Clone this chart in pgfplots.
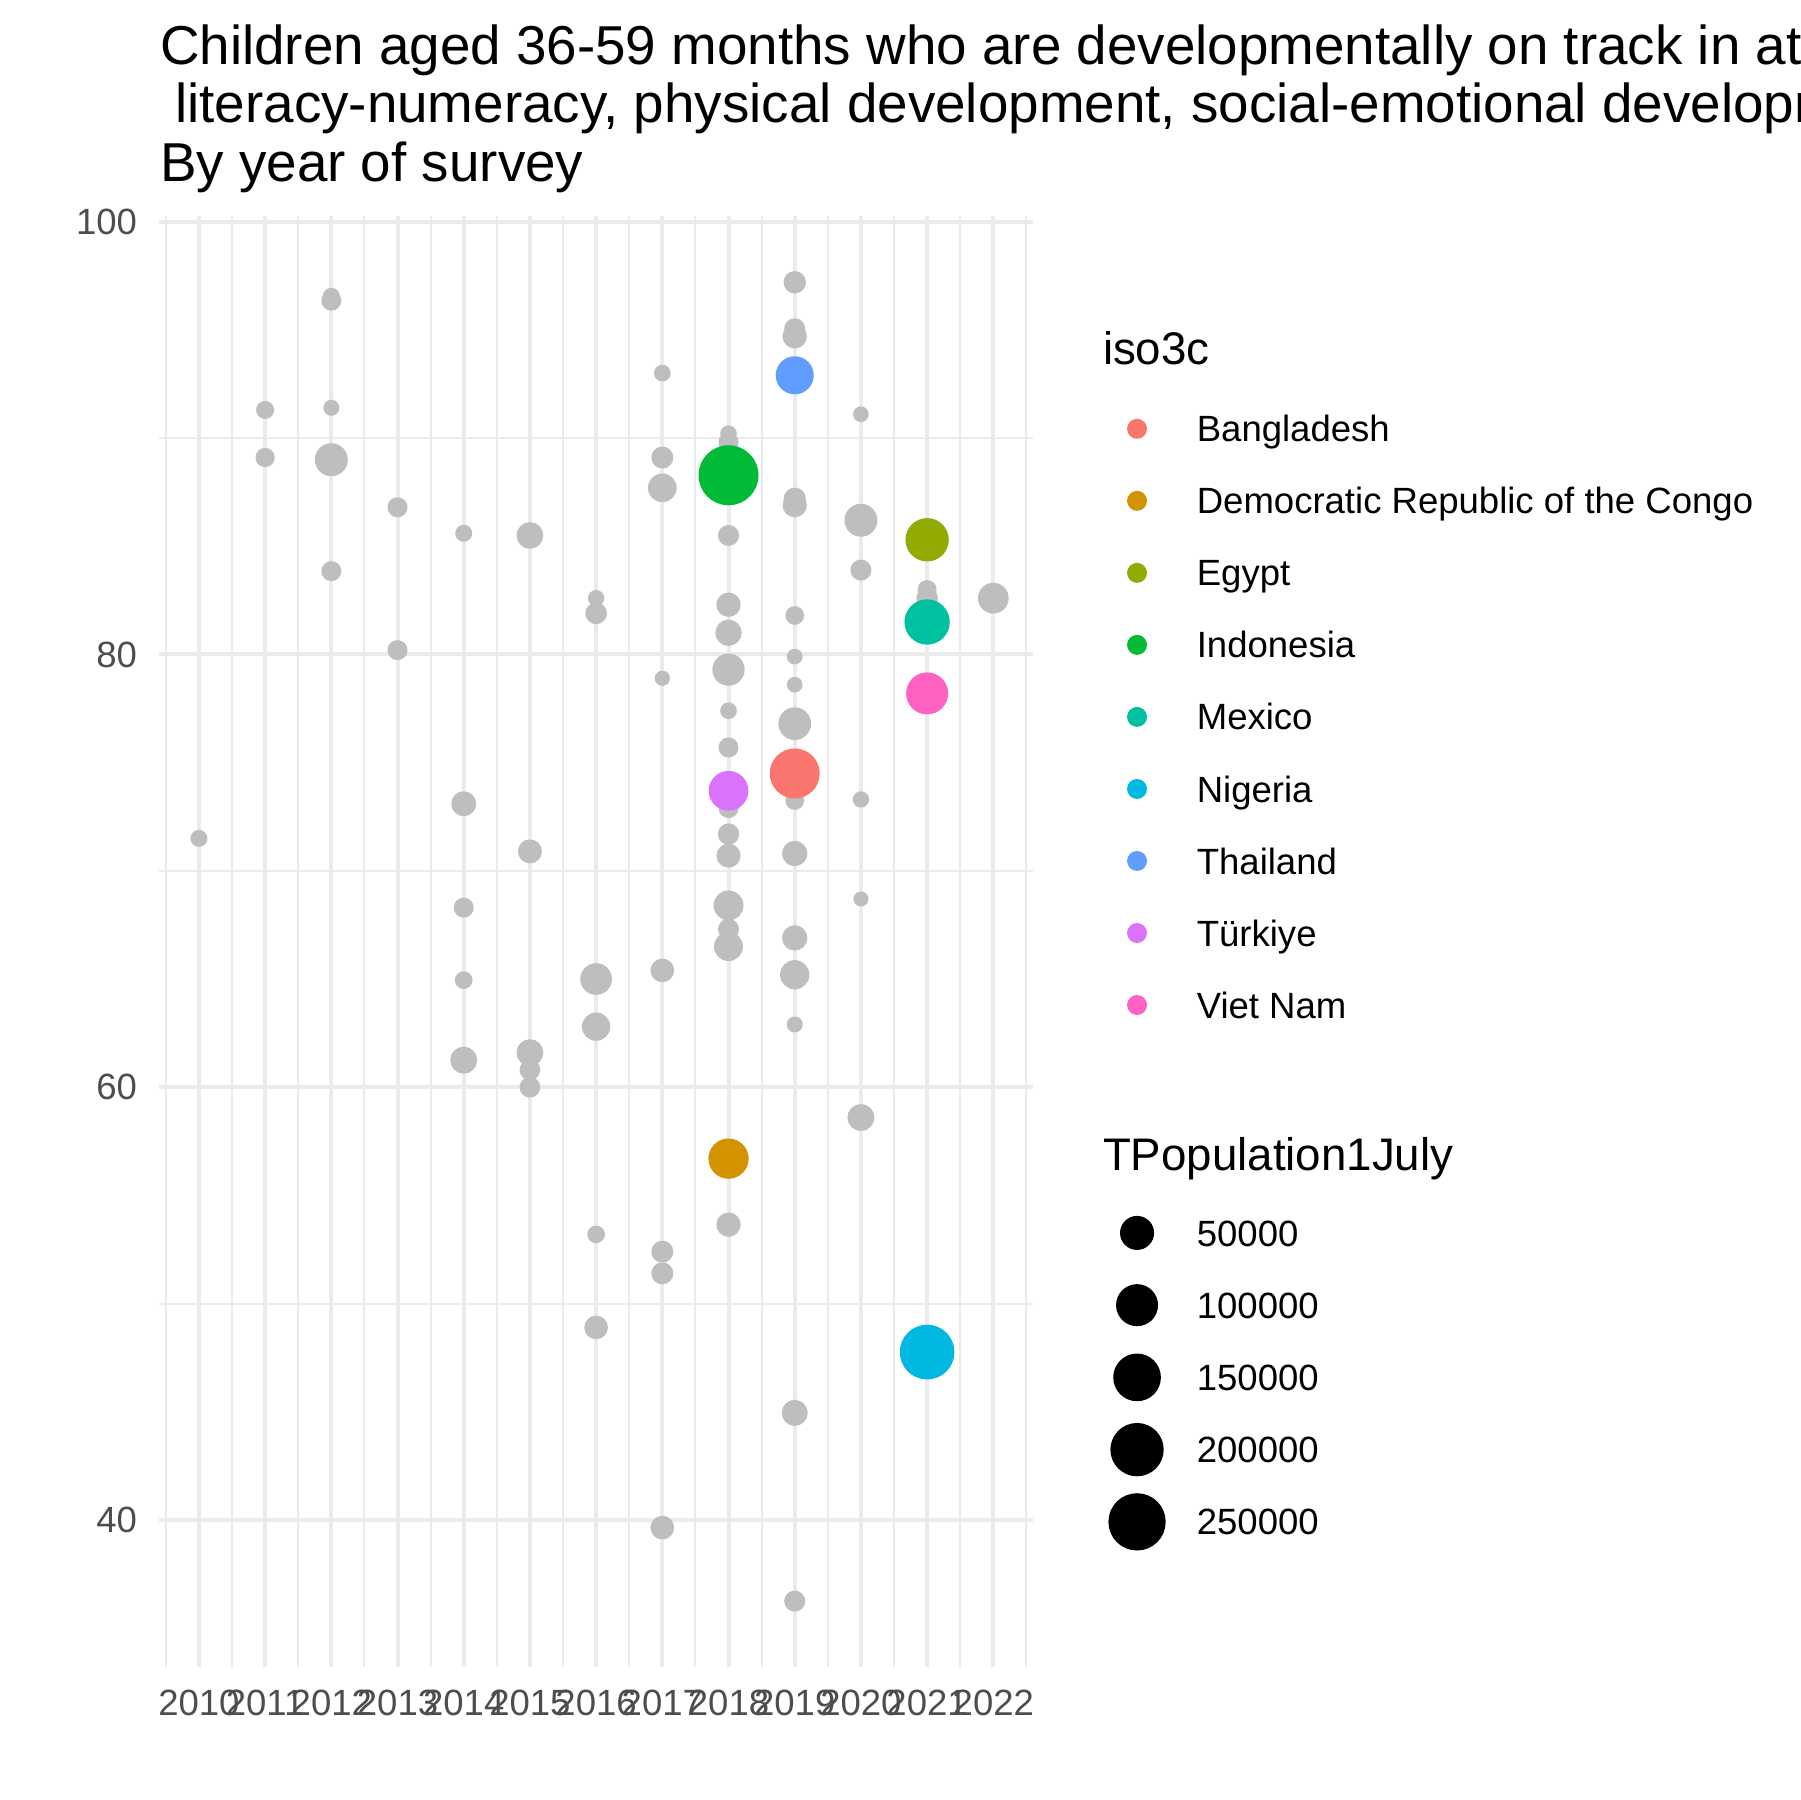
\documentclass[border=0pt]{standalone}
\usepackage{fontspec}
\setmainfont{Liberation Sans}
\usepackage{pgfplots}
\pgfplotsset{compat=1.18}
\usepackage{pgfplotstable}
\definecolor{ggray}{HTML}{BEBEBE}
\definecolor{gridc}{HTML}{EBEBEB}
\definecolor{tickc}{HTML}{4D4D4D}
\definecolor{cBGD}{HTML}{F8766D}
\definecolor{cCOD}{HTML}{D39200}
\definecolor{cEGY}{HTML}{93AA00}
\definecolor{cIDN}{HTML}{00BA38}
\definecolor{cMEX}{HTML}{00C19F}
\definecolor{cNGA}{HTML}{00B9E3}
\definecolor{cTHA}{HTML}{619CFF}
\definecolor{cTUR}{HTML}{DB72FB}
\definecolor{cVNM}{HTML}{FF61C3}

\pgfplotstableread{
year val r
2010 71.5 1.85
2011 91.3 1.97
2011 89.1 2.12
2012 96.55 1.85
2012 96.35 2.21
2012 91.4 1.73
2012 89.0 3.77
2012 83.85 2.21
2013 86.8 2.21
2013 80.2 2.21
2014 85.6 1.85
2014 73.1 2.81
2014 68.3 2.21
2014 64.95 1.93
2014 61.25 3.05
2015 85.5 3.02
2015 70.9 2.69
2015 61.6 3.02
2015 60.8 2.29
2015 60.0 2.29
2016 82.6 1.76
2016 81.9 2.41
2016 65.0 3.62
2016 62.8 3.21
2016 53.2 1.93
2016 48.9 2.65
2017 93.0 1.81
2017 89.1 2.45
2017 87.7 3.26
2017 78.9 1.64
2017 65.4 2.65
2017 52.4 2.45
2017 51.4 2.45
2017 39.65 2.65
2018 90.2 1.81
2018 89.8 2.21
2018 85.5 2.33
2018 82.3 2.73
2018 81.0 2.97
2018 79.3 3.69
2018 77.4 1.81
2018 75.7 2.21
2018 72.9 2.21
2018 71.7 2.37
2018 70.7 2.69
2018 68.4 3.41
2018 67.3 2.33
2018 66.5 3.29
2018 53.65 2.73
2019 97.2 2.49
2019 95.05 2.33
2019 94.7 2.73
2019 87.2 2.45
2019 86.9 2.73
2019 81.8 2.05
2019 79.9 1.69
2019 78.6 1.69
2019 76.8 3.74
2019 73.25 2.05
2019 70.8 2.85
2019 66.9 2.85
2019 65.2 3.33
2019 62.9 1.73
2019 44.95 2.93
2019 36.25 2.33
2020 91.1 1.69
2020 86.2 3.77
2020 83.9 2.33
2020 73.3 1.76
2020 68.7 1.61
2020 58.6 3.05
2021 83.0 2.09
2021 82.6 2.41
2022 82.6 3.50
}\graydata

\begin{document}
\begin{tikzpicture}
\path[use as bounding box] (0,0) rectangle (433.6pt,433.6pt);
\clip (0,0) rectangle (433.6pt,433.6pt);
\begin{axis}[
  at={(38.35pt,32pt)}, anchor=south west, scale only axis,
  width=210.5pt, height=349.5pt,
  xmin=2009.4, xmax=2022.6, ymin=33.2, ymax=100.25,
  axis line style={draw=none},
  major tick length=0pt, minor tick length=0pt,
  xtick={2010,2011,...,2022},
  minor xtick={2009.5,2010.5,...,2022.5},
  ytick={40,60,80,100}, minor ytick={50,70,90},
  grid=both,
  major grid style={draw=gridc, line width=0.96pt},
  minor grid style={draw=gridc, line width=0.48pt},
  /pgf/number format/assume math mode=true,
  /pgf/number format/1000 sep={},
  ticklabel style={font=\fontsize{8.8}{10}\selectfont, text=tickc, inner sep=0pt},
  xticklabel style={anchor=center, yshift=-8.5pt},
  yticklabel style={anchor=east, xshift=-5.15pt},
  legend cell align=left,
  legend image code/.code={\path[draw=none,fill=none] (-7pt,-8.675pt) rectangle (7pt,8.675pt); \draw[only marks,#1] plot coordinates {(0pt,0pt)};},
  legend style={at={(1.08575,0.87833)}, anchor=north west, draw=none, fill=none,
    inner sep=0pt, outer sep=0pt, row sep=0pt, column sep=7.4pt,
    nodes={inner sep=0pt, outer sep=0pt, text height=8pt, text depth=1.7pt, font=\fontsize{8.8}{10}\selectfont}},
]
\addplot[scatter, only marks, mark=*, forget plot,
  scatter/use mapped color={draw=ggray, fill=ggray},
  visualization depends on={\thisrow{r} \as \rr},
  scatter/@pre marker code/.append style={/tikz/mark size=\rr}]
  table[x=year, y=val] {\graydata};
\addplot[only marks, mark=*, color=cBGD, mark size=5.82pt, forget plot] coordinates {(2019,74.5)};
\addplot[only marks, mark=*, color=cCOD, mark size=4.65pt, forget plot] coordinates {(2018,56.7)};
\addplot[only marks, mark=*, color=cEGY, mark size=5.02pt, forget plot] coordinates {(2021,85.3)};
\addplot[only marks, mark=*, color=cIDN, mark size=7.03pt, forget plot] coordinates {(2018,88.28)};
\addplot[only marks, mark=*, color=cMEX, mark size=5.26pt, forget plot] coordinates {(2021,81.5)};
\addplot[only marks, mark=*, color=cNGA, mark size=6.39pt, forget plot] coordinates {(2021,47.76)};
\addplot[only marks, mark=*, color=cTHA, mark size=4.38pt, forget plot] coordinates {(2019,92.9)};
\addplot[only marks, mark=*, color=cTUR, mark size=4.58pt, forget plot] coordinates {(2018,73.7)};
\addplot[only marks, mark=*, color=cVNM, mark size=4.86pt, forget plot] coordinates {(2021,78.2)};
\addlegendimage{mark=*, color=cBGD, mark size=2.2pt}
\addlegendentry{Bangladesh}
\addlegendimage{mark=*, color=cCOD, mark size=2.2pt}
\addlegendentry{Democratic Republic of the Congo}
\addlegendimage{mark=*, color=cEGY, mark size=2.2pt}
\addlegendentry{Egypt}
\addlegendimage{mark=*, color=cIDN, mark size=2.2pt}
\addlegendentry{Indonesia}
\addlegendimage{mark=*, color=cMEX, mark size=2.2pt}
\addlegendentry{Mexico}
\addlegendimage{mark=*, color=cNGA, mark size=2.2pt}
\addlegendentry{Nigeria}
\addlegendimage{mark=*, color=cTHA, mark size=2.2pt}
\addlegendentry{Thailand}
\addlegendimage{mark=*, color=cTUR, mark size=2.2pt}
\addlegendentry{Türkiye}
\addlegendimage{mark=*, color=cVNM, mark size=2.2pt}
\addlegendentry{Viet Nam}
\end{axis}
\begin{axis}[
  at={(38.35pt,32pt)}, anchor=south west, scale only axis,
  width=210.5pt, height=349.5pt,
  xmin=2009.4, xmax=2022.6, ymin=33.2, ymax=100.25,
  hide axis,
  legend cell align=left,
  legend image code/.code={\path[draw=none,fill=none] (-7pt,-8.7pt) rectangle (7pt,8.7pt); \draw[only marks,#1] plot coordinates {(0pt,0pt)};},
  legend style={at={(1.08575,0.32418)}, anchor=north west, draw=none, fill=none,
    inner sep=0pt, outer sep=0pt, row sep=0pt, column sep=7.4pt,
    nodes={inner sep=0pt, outer sep=0pt, text height=8pt, text depth=1.7pt, font=\fontsize{8.8}{10}\selectfont}},
]
\addlegendimage{mark=*, color=black, mark size=3.90pt}
\addlegendentry{50000}
\addlegendimage{mark=*, color=black, mark size=4.86pt}
\addlegendentry{100000}
\addlegendimage{mark=*, color=black, mark size=5.54pt}
\addlegendentry{150000}
\addlegendimage{mark=*, color=black, mark size=6.22pt}
\addlegendentry{200000}
\addlegendimage{mark=*, color=black, mark size=6.70pt}
\addlegendentry{250000}
\end{axis}
\node[anchor=base west, inner sep=0pt, font=\fontsize{11}{13}\selectfont] at (265.5pt,345.8pt) {iso3c};
\node[anchor=base west, inner sep=0pt, font=\fontsize{11}{13}\selectfont] at (265.5pt,151.7pt) {TPopulation1July};
\node[anchor=base west, inner sep=0pt, font=\fontsize{13.2}{15}\selectfont] at (38.35pt,418.1pt) {Children aged 36-59 months who are developmentally on track in at least three of the following four domains:};
\node[anchor=base west, inner sep=0pt, font=\fontsize{13.2}{15}\selectfont] at (38.35pt,404.0pt) {\ literacy-numeracy, physical development, social-emotional development, and learning};
\node[anchor=base west, inner sep=0pt, font=\fontsize{13.2}{15}\selectfont] at (38.35pt,389.9pt) {By year of survey};
\end{tikzpicture}
\end{document}
